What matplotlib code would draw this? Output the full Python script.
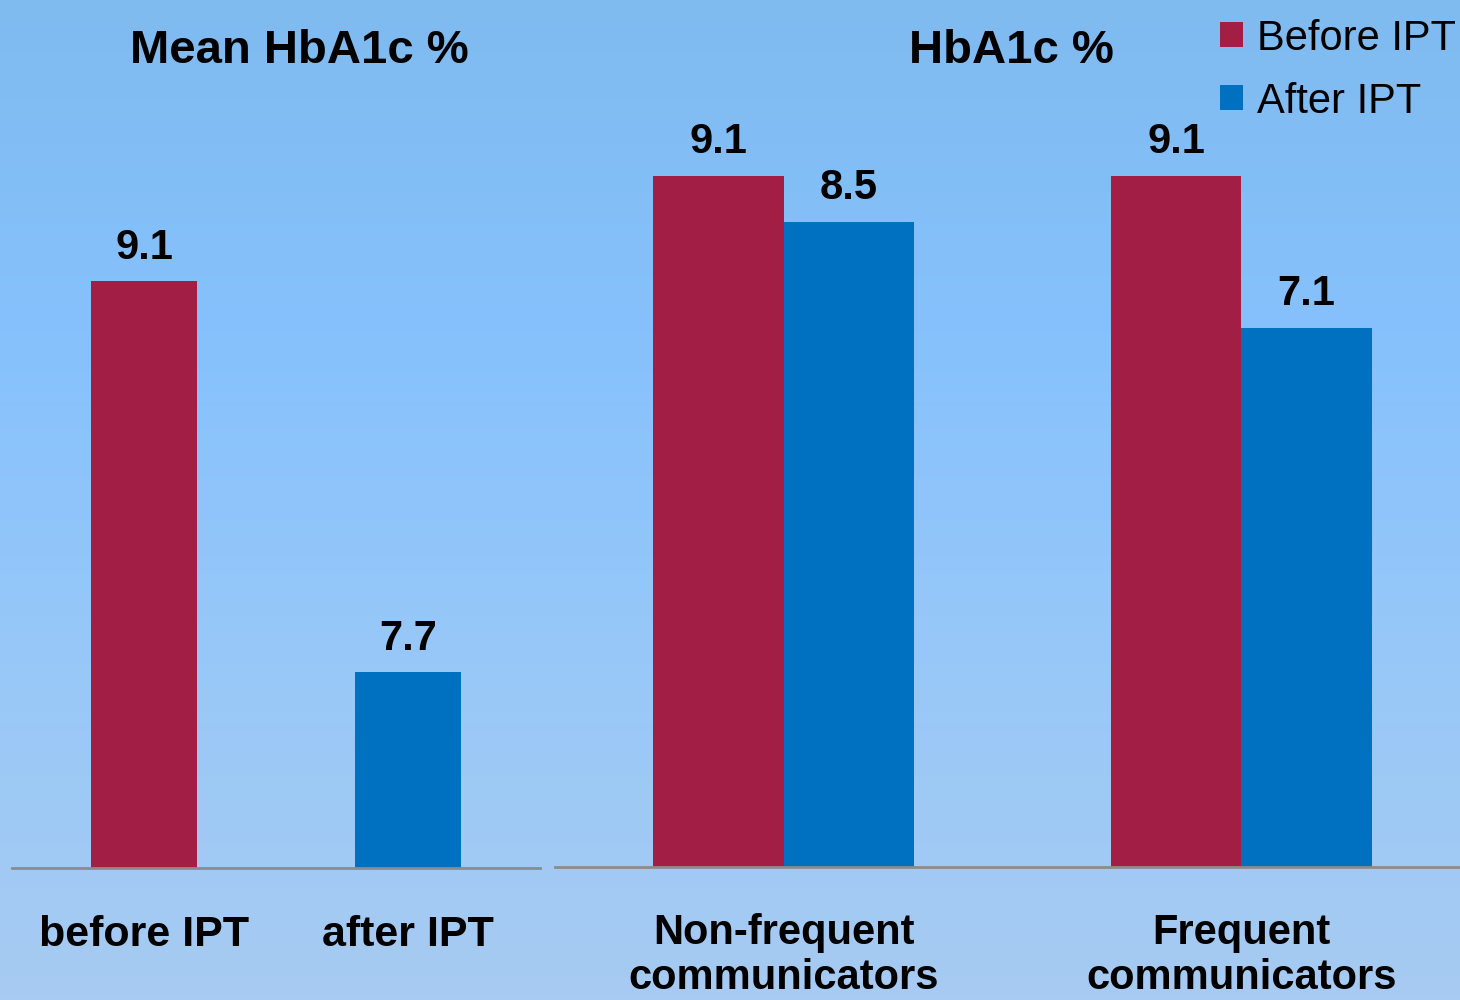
import numpy as np
import matplotlib.pyplot as plt
from matplotlib.colors import LinearSegmentedColormap

# data
left_cats = ['before IPT', 'after IPT']
left_vals = [9.1, 7.7]
right_cats = ['Non-frequent\ncommunicators', 'Frequent\ncommunicators']
before_vals = [9.1, 9.1]
after_vals = [8.5, 7.1]
series_names = ['Before IPT', 'After IPT']

RED = '#a31e45'
BLUE = '#0070c0'
AXIS = '#8c8c8c'

plt.rcParams['font.family'] = ['Liberation Sans', 'DejaVu Sans']

fig = plt.figure(figsize=(14.6, 10), dpi=100)

# gradient background
bg = fig.add_axes([0, 0, 1, 1], zorder=-10)
grad = LinearSegmentedColormap.from_list('bg', ['#7fbbef', '#86c1fd', '#98c8f8', '#a7cbf2'])
bg.imshow(np.linspace(0, 1, 256).reshape(-1, 1), aspect='auto', cmap=grad,
          extent=[0, 1, 0, 1], origin='upper')
bg.axis('off')


def style(ax):
    ax.patch.set_alpha(0)
    for s in ['top', 'left', 'right']:
        ax.spines[s].set_visible(False)
    ax.spines['bottom'].set_color(AXIS)
    ax.spines['bottom'].set_linewidth(2)
    ax.set_yticks([])
    ax.tick_params(axis='x', length=0)


def label(ax, x, v):
    ax.annotate(f'{v:.1f}', (x, v), xytext=(0, 10), textcoords='offset points',
                ha='center', va='bottom', fontsize=30, fontweight='bold')


# left panel
ax1 = fig.add_axes([0.0082, 0.132, 0.3616, 0.838])
style(ax1)
x1 = np.arange(len(left_cats))
ax1.bar(x1, left_vals, width=0.4, color=[RED, BLUE])
for x, v in zip(x1, left_vals):
    label(ax1, x, v)
ax1.set_xlim(-0.5, 1.5)
ax1.set_ylim(7, 10)
ax1.set_xticks(x1)
ax1.set_xticklabels(left_cats, fontsize=31, fontweight='bold')
ax1.tick_params(axis='x', pad=34)

# right panel
ax2 = fig.add_axes([0.380, 0.133, 0.627, 0.835])
style(ax2)
x2 = np.arange(len(right_cats))
w = 0.285
b1 = ax2.bar(x2 - w / 2, before_vals, width=w, color=RED, label=series_names[0])
b2 = ax2.bar(x2 + w / 2, after_vals, width=w, color=BLUE, label=series_names[1])
for x, v in zip(x2 - w / 2, before_vals):
    label(ax2, x, v)
for x, v in zip(x2 + w / 2, after_vals):
    label(ax2, x, v)
ax2.set_xlim(-0.5, 1.5)
ax2.set_ylim(0, 11)
ax2.set_xticks(x2)
ax2.set_xticklabels(right_cats, fontsize=30, fontweight='bold', linespacing=1.18)
ax2.tick_params(axis='x', pad=33)

fig.text(0.205, 0.949, 'Mean HbA1c %', ha='center', va='center', fontsize=34, fontweight='bold')
fig.text(0.693, 0.949, 'HbA1c %', ha='center', va='center', fontsize=34, fontweight='bold')

fig.legend(handles=[b1, b2], labels=series_names, loc='upper left',
           bbox_to_anchor=(0.824, 0.998), frameon=False, fontsize=30,
           handlelength=0.55, handleheight=0.55, handletextpad=0.35, labelspacing=0.55,
           borderaxespad=0)

fig.savefig('out.png', dpi=100)
